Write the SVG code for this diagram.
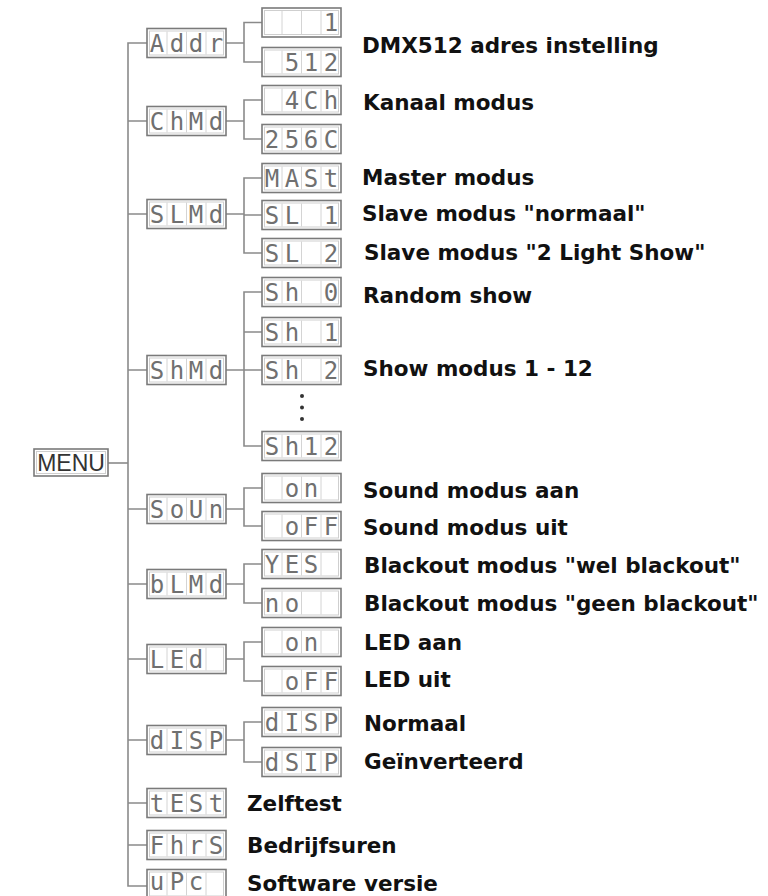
<svg xmlns="http://www.w3.org/2000/svg" width="768" height="896" viewBox="0 0 768 896">
<style>
.bg{fill:#fff}
.box{fill:#fff;stroke:#7a7a7a;stroke-width:1.6}
.inner{fill:none;stroke:#cfcfcf;stroke-width:1}
.div{stroke:#d4d4d4;stroke-width:1}
.lcd{font-family:"DejaVu Sans Mono","Liberation Mono",monospace;font-size:24px;fill:#707070;text-anchor:middle}
.lbl{font-family:"DejaVu Sans","Liberation Sans",sans-serif;font-weight:bold;font-size:21.5px;fill:#111}
.menu{font-family:"Liberation Sans","Arial",sans-serif;font-size:23px;fill:#333}
.con{fill:none;stroke:#8a8a8a;stroke-width:1.6}
</style>
<defs>
<g id="lcdbox">
<rect class="box" x="0" y="0" width="79" height="29"/>
<rect class="inner" x="2.5" y="2.5" width="74" height="24"/>
<line class="div" x1="20" y1="3" x2="20" y2="26"/>
<line class="div" x1="39.5" y1="3" x2="39.5" y2="26"/>
<line class="div" x1="59" y1="3" x2="59" y2="26"/>
</g>
</defs>
<rect class="bg" x="0" y="0" width="768" height="896"/>

<g id="connectors" class="con">
<path d="M147 43H128V886H147"/>
<path d="M108 463H128"/>
<path d="M128 121H147M128 214H147M128 370H147M128 509H147M128 584H147M128 659H147M128 740H147M128 803H147M128 845H147"/>
<path d="M226 43H244M262 22.5H244V62H262"/>
<path d="M226 121H244M262 100H244V139H262"/>
<path d="M226 214H244M262 178H244V253H262M244 215H262"/>
<path d="M226 370H244M262 292H244V446H262M244 332H262M244 370H262"/>
<path d="M226 509H244M262 488H244V526H262"/>
<path d="M226 584H244M262 564H244V603H262"/>
<path d="M226 659H244M262 642H244V681H262"/>
<path d="M226 740H244M262 722H244V762H262"/>
</g>

<g id="menu">
<rect class="box" x="34" y="449" width="74" height="27"/>
<rect class="inner" x="36.5" y="451.5" width="69" height="22"/>
<text class="menu" x="71" y="471" text-anchor="middle">MENU</text>
</g>

<g id="addr">
<use href="#lcdbox" x="147" y="28.5"/>
<text class="lcd" x="157 177 196 216" y="51.5">Addr</text>
<g id="addr-1"><use href="#lcdbox" x="262" y="8"/><text class="lcd" x="331" y="31">1</text></g>
<g id="addr-512"><use href="#lcdbox" x="262" y="47.5"/><text class="lcd" x="292 311 331" y="70.5">512</text></g>
<text class="lbl" x="362" y="53">DMX512 adres instelling</text>
</g>

<g id="chmd">
<use href="#lcdbox" x="147" y="106.5"/>
<text class="lcd" x="157 177 196 216" y="129.5">ChMd</text>
<g id="ch-4"><use href="#lcdbox" x="262" y="85.5"/><text class="lcd" x="292 311 331" y="108.5">4Ch</text></g>
<g id="ch-256"><use href="#lcdbox" x="262" y="124.5"/><text class="lcd" x="272 292 311 331" y="147.5">256C</text></g>
<text class="lbl" x="363" y="109.5">Kanaal modus</text>
</g>

<g id="slmd">
<use href="#lcdbox" x="147" y="199.5"/>
<text class="lcd" x="157 177 196 216" y="222.5">SLMd</text>
<g id="sl-mast"><use href="#lcdbox" x="262" y="163.5"/><text class="lcd" x="272 292 311 331" y="186.5">MASt</text></g>
<g id="sl-1"><use href="#lcdbox" x="262" y="200.5"/><text class="lcd" x="272 292 331" y="223.5">SL1</text></g>
<g id="sl-2"><use href="#lcdbox" x="262" y="238.5"/><text class="lcd" x="272 292 331" y="261.5">SL2</text></g>
<text class="lbl" x="362" y="185">Master modus</text>
<text class="lbl" x="362" y="221">Slave modus "normaal"</text>
<text class="lbl" x="364" y="260">Slave modus "2 Light Show"</text>
</g>

<g id="shmd">
<use href="#lcdbox" x="147" y="355.5"/>
<text class="lcd" x="157 177 196 216" y="378.5">ShMd</text>
<g id="sh-0"><use href="#lcdbox" x="262" y="277.5"/><text class="lcd" x="272 292 331" y="300.5">Sh0</text></g>
<g id="sh-1"><use href="#lcdbox" x="262" y="317.5"/><text class="lcd" x="272 292 331" y="340.5">Sh1</text></g>
<g id="sh-2"><use href="#lcdbox" x="262" y="355.5"/><text class="lcd" x="272 292 331" y="378.5">Sh2</text></g>
<g id="sh-dots" fill="#333"><circle cx="302" cy="396" r="2"/><circle cx="302" cy="407.5" r="2"/><circle cx="302" cy="419" r="2"/></g>
<g id="sh-12"><use href="#lcdbox" x="262" y="431.5"/><text class="lcd" x="272 292 311 331" y="454.5">Sh12</text></g>
<text class="lbl" x="363" y="303">Random show</text>
<text class="lbl" x="363" y="376">Show modus 1 - 12</text>
</g>

<g id="soun">
<use href="#lcdbox" x="147" y="494.5"/>
<text class="lcd" x="157 177 196 216" y="517.5">SoUn</text>
<g id="so-on"><use href="#lcdbox" x="262" y="473.5"/><text class="lcd" x="292 311" y="496.5">on</text></g>
<g id="so-off"><use href="#lcdbox" x="262" y="511.5"/><text class="lcd" x="292 311 331" y="534.5">oFF</text></g>
<text class="lbl" x="363" y="498">Sound modus aan</text>
<text class="lbl" x="363" y="535">Sound modus uit</text>
</g>

<g id="blmd">
<use href="#lcdbox" x="147" y="569.5"/>
<text class="lcd" x="157 177 196 216" y="592.5">bLMd</text>
<g id="bl-yes"><use href="#lcdbox" x="262" y="549.5"/><text class="lcd" x="272 292 311" y="572.5">YES</text></g>
<g id="bl-no"><use href="#lcdbox" x="262" y="588.5"/><text class="lcd" x="272 292" y="611.5">no</text></g>
<text class="lbl" x="364" y="573">Blackout modus "wel blackout"</text>
<text class="lbl" x="364" y="611">Blackout modus "geen blackout"</text>
</g>

<g id="led">
<use href="#lcdbox" x="147" y="644.5"/>
<text class="lcd" x="157 177 196" y="667.5">LEd</text>
<g id="led-on"><use href="#lcdbox" x="262" y="627.5"/><text class="lcd" x="292 311" y="650.5">on</text></g>
<g id="led-off"><use href="#lcdbox" x="262" y="666.5"/><text class="lcd" x="292 311 331" y="689.5">oFF</text></g>
<text class="lbl" x="364" y="650">LED aan</text>
<text class="lbl" x="364" y="687">LED uit</text>
</g>

<g id="disp">
<use href="#lcdbox" x="147" y="725.5"/>
<text class="lcd" x="157 177 196 216" y="748.5">dISP</text>
<g id="disp-n"><use href="#lcdbox" x="262" y="707.5"/><text class="lcd" x="272 292 311 331" y="730.5">dISP</text></g>
<g id="disp-i"><use href="#lcdbox" x="262" y="747.5"/><text class="lcd" x="272 292 311 331" y="770.5">dSIP</text></g>
<text class="lbl" x="364" y="731">Normaal</text>
<text class="lbl" x="364" y="769">Geïnverteerd</text>
</g>

<g id="test">
<use href="#lcdbox" x="147" y="788.5"/>
<text class="lcd" x="157 177 196 216" y="811.5">tESt</text>
<text class="lbl" x="247" y="811">Zelftest</text>
</g>

<g id="fhrs">
<use href="#lcdbox" x="147" y="830.5"/>
<text class="lcd" x="157 177 196 216" y="853.5">FhrS</text>
<text class="lbl" x="247" y="853">Bedrijfsuren</text>
</g>

<g id="uer">
<use href="#lcdbox" x="147" y="869.5"/>
<text class="lcd" x="157 177 196" y="890">uPc</text>
<text class="lbl" x="247" y="891">Software versie</text>
</g>
</svg>
